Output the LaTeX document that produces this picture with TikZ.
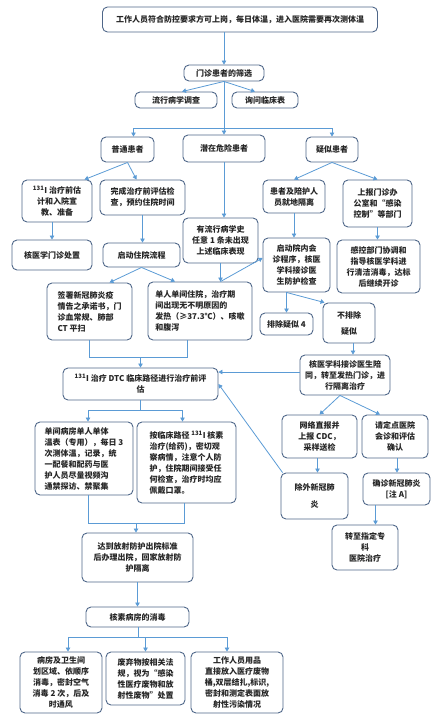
\documentclass[tikz,border=0pt]{standalone}
\usepackage{fontspec}
\setmainfont{Noto Sans CJK SC}
\usetikzlibrary{arrows.meta}
\definecolor{boxblue}{HTML}{4F6789}
\definecolor{lineblue}{HTML}{5B9BD5}
\tikzstyle{box}=[draw=boxblue, line width=0.9pt, rounded corners=5pt, fill=white, align=center, inner sep=2pt, font=\fontsize{8}{11}\selectfont\bfseries, text=black!85]
\tikzstyle{arr}=[draw=lineblue, line width=0.8pt, -{Triangle[length=4pt,width=4.5pt]}]
\tikzstyle{wire}=[draw=lineblue, line width=0.8pt]
\newcommand{\flowbox}{\node[box]}
\newcommand{\iso}{\textsuperscript{131}I}

\begin{document}
\begin{tikzpicture}[x=1pt, y=-1pt]
\useasboundingbox (0,0) rectangle (431,715);
\flowbox[minimum width=275, minimum height=25] (top) at (240,19.5) {工作人员符合防控要求方可上岗，每日体温，进入医院需要再次测体温};
\flowbox[minimum width=80, minimum height=16] (screen) at (224,73) {门诊患者的筛选};
\flowbox[minimum width=82, minimum height=16] (epi) at (176,100) {流行病学调查};
\flowbox[minimum width=66, minimum height=16] (ask) at (265,100) {询问临床表};
\flowbox[minimum width=53, minimum height=25] (normal) at (127.5,149.5) {普通患者};
\flowbox[minimum width=82, minimum height=27] (risk) at (224,148.5) {潜在危险患者};
\flowbox[minimum width=52, minimum height=25] (suspect) at (332,149.5) {疑似患者};
\flowbox[minimum width=70, minimum height=42] (pre) at (57,201) {\iso\ 治疗前估\\计和入院宣\\教、准备};
\flowbox[minimum width=85, minimum height=35] (done) at (142.5,197.5) {完成治疗前评估检\\查，预约住院时间};
\flowbox[minimum width=62, minimum height=33] (isolate) at (294,196.5) {患者及陪护人\\员就地隔离};
\flowbox[minimum width=69, minimum height=47] (report) at (377.5,203.5) {上报门诊办\\公室和“感染\\控制”等部门};
\flowbox[minimum width=75, minimum height=45] (history) at (220.5,240.5) {有流行病学史\\任意 1 条未出现\\上述临床表现};
\flowbox[minimum width=80, minimum height=30] (nmclinic) at (52,255) {核医学门诊处置};
\flowbox[minimum width=77, minimum height=24] (admit) at (141.5,255) {启动住院流程};
\flowbox[minimum width=67, minimum height=54] (consult) at (296.5,265) {启动院内会\\诊程序，核医\\学科接诊医\\生防护检查};
\flowbox[minimum width=83, minimum height=53] (infect) at (378.5,266.5) {感控部门协调和\\指导核医学科进\\行清洁消毒，达标\\后继续开诊};
\flowbox[minimum width=85, minimum height=57, align=left] (sign) at (89.5,311.5) {签署新冠肺炎疫\\情告之承诺书，门\\诊血常规、肺部\\CT 平扫};
\flowbox[minimum width=104, minimum height=58, align=left] (single) at (200,311) {单人单间住院，治疗期\\间出现无不明原因的\\发热（≥37.3℃）、咳嗽\\和腹泻};
\flowbox[minimum width=53, minimum height=22] (exclude) at (286.5,324) {排除疑似 4};
\flowbox[minimum width=52, minimum height=40] (notex) at (349,323) {不排除\\[5pt]疑似};
\flowbox[minimum width=90, minimum height=40] (fever) at (345,375) {核医学科接诊医生陪\\同，转至发热门诊，进\\行隔离治疗};
\flowbox[minimum width=155, minimum height=32] (dtc) at (140.5,384) {\iso\ 治疗 DTC 临床路径进行治疗前评\\估};
\flowbox[minimum width=98, minimum height=73, align=left] (ward) at (84,458.5) {单间病房单人单体\\温表（专用），每日 3\\次测体温，记录，统\\一配餐和配药与医\\护人员尽量视频沟\\通禁探访、禁聚集};
\flowbox[minimum width=99, minimum height=81, align=left] (treat) at (186.5,462.5) {按临床路径 \iso\ 核素\\治疗(给药)，密切观\\察病情，注意个人防\\护，住院期间接受任\\何检查，治疗时均应\\佩戴口罩。};
\flowbox[minimum width=75, minimum height=43] (cdc) at (319.5,436.5) {网络直报并\\上报 CDC，\\采样送检};
\flowbox[minimum width=66, minimum height=43] (expert) at (395,436.5) {请定点医院\\会诊和评估\\确认};
\flowbox[minimum width=67, minimum height=46] (ruleout) at (314.5,496) {除外新冠肺\\[6pt]炎};
\flowbox[minimum width=67, minimum height=32] (confirm) at (396.5,489) {确诊新冠肺炎\\{[注 A]}};
\flowbox[minimum width=66, minimum height=45] (transfer) at (365,547.5) {转至指定专\\科\\医院治疗};
\flowbox[minimum width=111, minimum height=49] (discharge) at (137.5,557.5) {达到放射防护出院标准\\后办理出院，回家放射防\\护隔离};
\flowbox[minimum width=103, minimum height=20] (disinfect) at (137.5,617) {核素病房的消毒};
\flowbox[minimum width=82, minimum height=61] (room) at (61,682.5) {病房及卫生间\\划区域、依顺序\\消毒，密封空气\\消毒 2 次，后及\\时通风};
\flowbox[minimum width=79, minimum height=53] (waste) at (145.5,678.5) {废弃物按相关法\\规，视为“感染\\性医疗废物和放\\射性废物”处置};
\flowbox[minimum width=92, minimum height=61] (staff) at (237,682.5) {工作人员用品\\直接放入医疗废物\\桶,双层结扎,标识,\\密封和测定表面放\\射性污染情况};
% bus points
\coordinate (bus1) at (224,128);
\coordinate (join1) at (138,357);
\coordinate (bus2) at (138,410);
\coordinate (join2) at (136,523);
\coordinate (bus3) at (138,637);
% screening
\draw[arr] (top.south -| screen.north) -- (screen.north);
\draw[arr] (screen.south) -- ([xshift=6]epi.north);
\draw[arr] (screen.south) -- ([xshift=-10]ask.north);
\draw[wire] (screen.south) -- (screen.south |- bus1);
\draw[wire] ([xshift=6]normal.north |- bus1) -- (suspect.north |- bus1);
\draw[arr] ([xshift=6]normal.north |- bus1) -- ([xshift=6]normal.north);
\draw[arr] (risk.north |- bus1) -- (risk.north);
\draw[arr] (suspect.north |- bus1) -- (suspect.north);
% three kinds of patients
\draw[arr] (normal.south) -- ([xshift=-8]pre.north east);
\draw[arr] (normal.south) -- ([xshift=-6]done.north);
\draw[arr] (pre.south -| nmclinic) -- (nmclinic.north);
\draw[arr] (done.south) -- (done.south |- admit.north);
\draw[arr] (risk.south) -- (risk.south |- history.north);
\draw[arr] (suspect.south) -- (isolate.north);
\draw[arr] (suspect.south) -- (report.north);
\draw[arr] (isolate.south) -- (isolate.south |- consult.north);
\draw[arr] (report.south) -- (report.south |- infect.north);
\draw[arr] (admit.south) -- ([xshift=20]sign.north);
\draw[arr] (admit.south) -- ([xshift=-25]single.north);
\draw[arr] (history.south) -- (history.south |- single.north);
\draw[arr] (single.north -| history.south) -- ([yshift=7]consult.west);
\draw[arr] (consult.south -| exclude.north) -- (exclude.north);
\draw[arr] (consult.south -| exclude.north) -- ([xshift=2]notex.north west);
\draw[arr] ([xshift=4]notex.south) -- ([xshift=4]notex.south |- fever.north);
\draw[arr] ([yshift=3]fever.west) -- ([yshift=3]fever.west -| dtc.east);
% treatment path
\draw[wire] (sign.south) -- (sign.south |- join1) -- ([xshift=-13]single.south |- join1) -- ([xshift=-13]single.south);
\draw[arr] (dtc.north |- join1) -- (dtc.north);
\draw[wire] (dtc.south) -- (dtc.south |- bus2);
\draw[wire] ([xshift=4]ward.north |- bus2) -- ([xshift=-4]treat.north |- bus2);
\draw[arr] ([xshift=4]ward.north |- bus2) -- ([xshift=4]ward.north);
\draw[arr] ([xshift=-4]treat.north |- bus2) -- ([xshift=-4]treat.north);
\draw[arr] ([xshift=-5]fever.south) -- (cdc.north);
\draw[arr] ([xshift=-5]fever.south) -- ([xshift=-15]expert.north);
\draw[arr] ([xshift=-2]cdc.south) -- ([xshift=-2]cdc.south |- ruleout.north);
\draw[arr] ([xshift=2]expert.south) -- ([xshift=2]expert.south |- confirm.north);
\draw[arr] ([xshift=-21]confirm.south) -- ([xshift=-21]confirm.south |- transfer.north);
\draw[arr] ([xshift=2]ruleout.north west) -- (dtc.east);
\draw[wire] ([xshift=4]ward.south) -- ([xshift=4]ward.south |- join2) -- ([xshift=-2]treat.south |- join2) -- ([xshift=-2]treat.south);
\draw[arr] (join2) -- (join2 |- discharge.north);
\draw[arr] (discharge.south) -- (discharge.south |- disinfect.north);
% disinfection
\draw[wire] ([xshift=1]disinfect.south) -- ([xshift=1]disinfect.south |- bus3);
\draw[wire] ([xshift=7]room.north |- bus3) -- ([xshift=-10]staff.north |- bus3);
\draw[arr] ([xshift=7]room.north |- bus3) -- ([xshift=7]room.north);
\draw[arr] (waste.north |- bus3) -- (waste.north);
\draw[arr] ([xshift=-10]staff.north |- bus3) -- ([xshift=-10]staff.north);
\end{tikzpicture}
\end{document}
